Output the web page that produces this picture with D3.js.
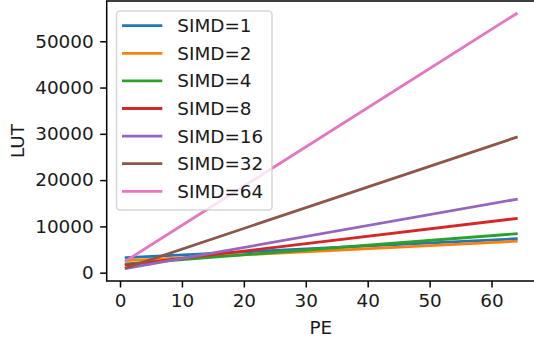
<!DOCTYPE html>
<html>
<head>
<meta charset="utf-8">
<script src="https://cdn.jsdelivr.net/npm/d3@7"></script>
<style>
  html, body { margin: 0; padding: 0; background: #fff; }
  svg { display: block; font-family: "DejaVu Sans", sans-serif; }
</style>
</head>
<body>
<svg id="chart" width="534" height="344"></svg>
<script>
const pe = [1, 64];
const seriesNames = ["SIMD=1", "SIMD=2", "SIMD=4", "SIMD=8", "SIMD=16", "SIMD=32", "SIMD=64"];
const simd1 = [3250, 7330];
const simd2 = [2600, 6780];
const simd4 = [1900, 8400];
const simd8 = [1650, 11700];
const simd16 = [950, 15850];
const simd32 = [1050, 29250];
const simd64 = [2600, 55950];
const colors = ["#1f77b4", "#ff7f0e", "#2ca02c", "#d62728", "#9467bd", "#8c564b", "#e377c2"];
const xTicks = [0, 10, 20, 30, 40, 50, 60];
const yTicks = [0, 10000, 20000, 30000, 40000, 50000];

const seriesValues = [simd1, simd2, simd4, simd8, simd16, simd32, simd64];
const series = seriesNames.map((name, i) => ({
  name, color: colors[i],
  points: pe.map((p, j) => ({ x: p, y: seriesValues[i][j] }))
}));

const svg = d3.select("#chart");
const L = 106.7, R = 535.8, T = 1, B = 281;
const fs = 18.4;

const xMin = d3.min(pe), xMax = d3.max(pe), xPad = (xMax - xMin) * 0.05;
const allY = seriesValues.flat();
const yMin = d3.min(allY), yMax = d3.max(allY), yPad = (yMax - yMin) * 0.05;

const x = d3.scaleLinear().domain([xMin - xPad, xMax + xPad]).range([L, R]);
const y = d3.scaleLinear().domain([yMin - yPad, yMax + yPad]).range([B, T]);

const line = d3.line().x(d => x(d.x)).y(d => y(d.y));

const g = svg.append("g");
g.selectAll("path.series").data(series).enter().append("path")
  .attr("class", "series")
  .attr("d", d => line(d.points))
  .attr("fill", "none")
  .attr("stroke", d => d.color)
  .attr("stroke-width", 2.8)
  .attr("stroke-linecap", "square");

// axes
const xAxis = d3.axisBottom(x).tickValues(xTicks).tickSize(6.5).tickPadding(6.5).tickFormat(d3.format("d"));
const yAxis = d3.axisLeft(y).tickValues(yTicks).tickSize(6.5).tickPadding(6.5).tickFormat(d3.format("d"));

const gx = svg.append("g").attr("transform", `translate(0,${B})`).call(xAxis);
const gy = svg.append("g").attr("transform", `translate(${L},0)`).call(yAxis);
[gx, gy].forEach(a => {
  a.select(".domain").remove();
  a.selectAll(".tick line").attr("stroke", "#000").attr("stroke-width", 1.5);
  a.selectAll(".tick text").attr("fill", "#1a1a1a").style("font-size", fs + "px").style("font-family", "DejaVu Sans");
});

// spines
svg.append("rect").attr("x", L).attr("y", T).attr("width", R - L).attr("height", B - T)
  .attr("fill", "none").attr("stroke", "#000").attr("stroke-width", 1.5);

// axis labels
svg.append("text").attr("x", (L + R) / 2 - 0.5).attr("y", 334)
  .attr("text-anchor", "middle").style("font-size", fs + "px").attr("fill", "#1a1a1a").text("PE");
svg.append("text").attr("transform", `translate(24,${(T + B) / 2}) rotate(-90)`)
  .attr("text-anchor", "middle").style("font-size", fs + "px").attr("fill", "#1a1a1a").text("LUT");

// legend
const lg = svg.append("g");
lg.append("rect").attr("x", 116.5).attr("y", 11).attr("width", 155.5).attr("height", 199)
  .attr("rx", 3.5).attr("fill", "#fff").attr("fill-opacity", 0.8)
  .attr("stroke", "#cccccc").attr("stroke-opacity", 0.8).attr("stroke-width", 1.5);
series.forEach((s, i) => {
  const yy = 25.7 + i * 27.6;
  lg.append("line").attr("x1", 122).attr("x2", 162.3).attr("y1", yy).attr("y2", yy)
    .attr("stroke", s.color).attr("stroke-width", 2.8);
  lg.append("text").attr("x", 177.3).attr("y", yy).attr("dy", "0.35em")
    .style("font-size", fs + "px").attr("fill", "#1a1a1a").text(s.name);
});
</script>
</body>
</html>
